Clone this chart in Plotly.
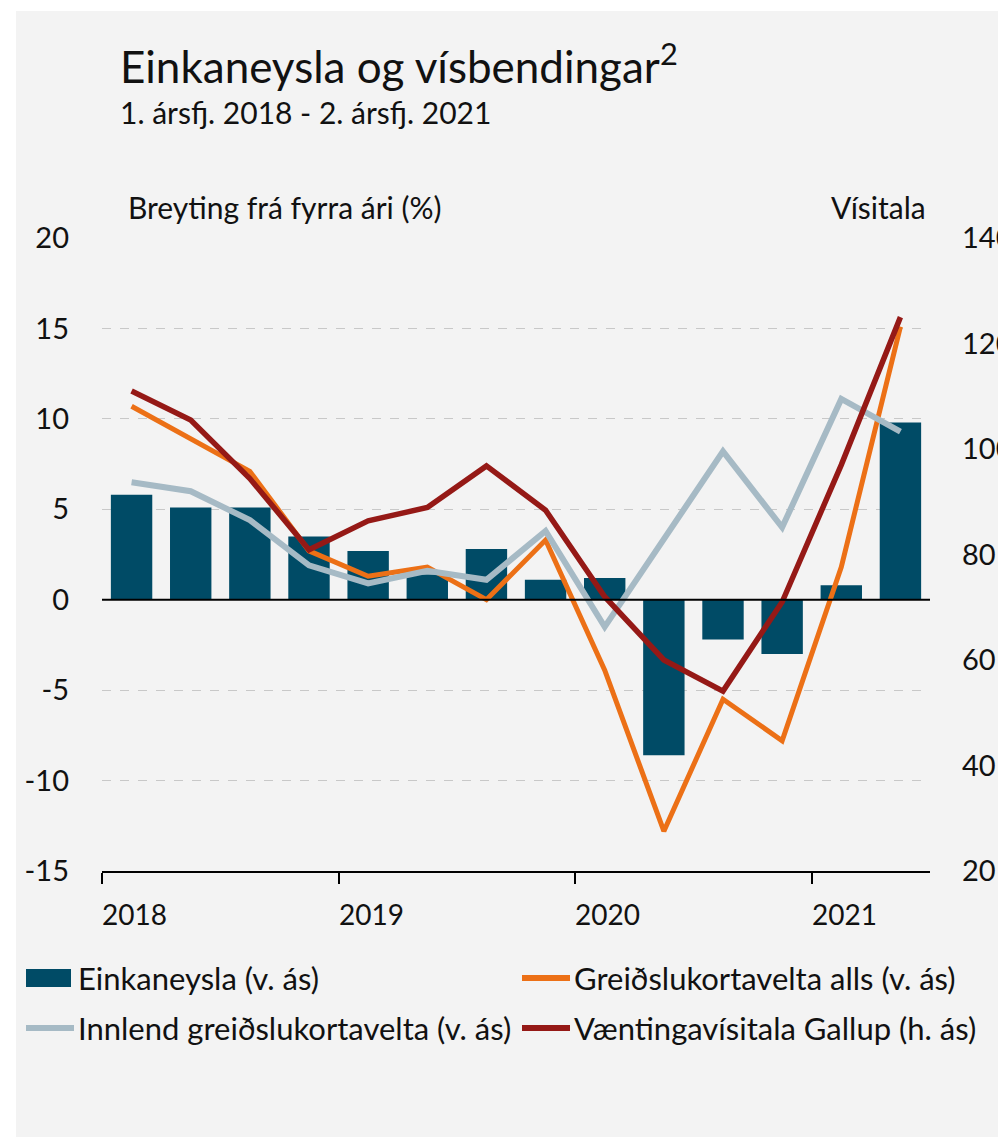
import plotly.graph_objects as go

# Quarterly data, 1. ársfj. 2018 - 2. ársfj. 2021
quarters = ["2018Q1", "2018Q2", "2018Q3", "2018Q4",
            "2019Q1", "2019Q2", "2019Q3", "2019Q4",
            "2020Q1", "2020Q2", "2020Q3", "2020Q4",
            "2021Q1", "2021Q2"]
einkaneysla = [5.8, 5.1, 5.1, 3.5, 2.7, 1.4, 2.8, 1.1, 1.2, -8.6, -2.2, -3.0, 0.8, 9.8]
greidslukort_alls = [10.7, 8.9, 7.1, 2.7, 1.3, 1.8, 0.0, 3.3, -3.9, -12.8, -5.5, -7.8, 1.8, 15.1]
innlend_greidslukort = [6.5, 6.0, 4.4, 1.9, 0.9, 1.6, 1.1, 3.8, -1.5, 3.4, 8.2, 4.0, 11.1, 9.3]
vaentingavisitala = [111.0, 105.5, 94.4, 80.9, 86.4, 88.9, 96.8, 88.4, 72.0, 60.0, 54.1, 71.0, 97.0, 125.0]

left_ticks = [-15, -10, -5, 0, 5, 10, 15, 20]
right_ticks = [20, 40, 60, 80, 100, 120, 140]

names = ["Einkaneysla (v. ás)", "Greiðslukortavelta alls (v. ás)",
         "Innlend greiðslukortavelta (v. ás)", "Væntingavísitala Gallup (h. ás)"]

C_BAR = "#004B66"
C_ORANGE = "#EC7016"
C_GREY = "#A6BAC5"
C_RED = "#951916"
BG = "#F3F3F3"
FONT = "Lato"

W_FIG, H_FIG = 998, 1137
L, R, T, B = 102, 930, 238, 871


def px(x):
    return (x - L) / (R - L)


def py(y):
    return (B - y) / (B - T)


xs = list(range(len(quarters)))
year_pos = [i - 0.5 for i, q in enumerate(quarters) if q.endswith("Q1")]
year_lbl = [q[:4] for q in quarters if q.endswith("Q1")]

fig = go.Figure()
fig.add_trace(go.Bar(x=xs, y=einkaneysla, marker=dict(color=C_BAR, line=dict(width=0)),
                     name=names[0], hovertext=quarters, showlegend=False))
fig.add_trace(go.Scatter(x=xs, y=greidslukort_alls, mode="lines",
                         line=dict(color=C_ORANGE, width=5), name=names[1],
                         hovertext=quarters, showlegend=False))
fig.add_trace(go.Scatter(x=xs, y=innlend_greidslukort, mode="lines",
                         line=dict(color=C_GREY, width=6), name=names[2],
                         hovertext=quarters, showlegend=False))
fig.add_trace(go.Scatter(x=xs, y=vaentingavisitala, mode="lines", yaxis="y2",
                         line=dict(color=C_RED, width=5.5), name=names[3],
                         hovertext=quarters, showlegend=False))

fig.update_layout(
    width=W_FIG, height=H_FIG, autosize=False,
    margin=dict(l=L, r=W_FIG - R, t=T, b=H_FIG - B),
    paper_bgcolor="white", plot_bgcolor=BG,
    font=dict(family=FONT, color="#111111"),
    bargap=0.3,
    showlegend=False,
    xaxis=dict(range=[-0.5, len(quarters) - 0.5], tickmode="array", tickvals=year_pos,
               showticklabels=False, ticks="outside", ticklen=11, tickwidth=2,
               tickcolor="black", showline=True, linecolor="black", linewidth=2,
               showgrid=False, zeroline=False, automargin=False),
    yaxis=dict(range=[-15, 20], tickmode="array", tickvals=left_ticks,
               ticktext=[str(v) for v in left_ticks], tickfont=dict(size=29),
               ticklabelstandoff=32, showgrid=True, gridcolor="#C8C8C8",
               griddash="dash", gridwidth=1, zeroline=False, showline=False,
               automargin=False),
    yaxis2=dict(range=[20, 140], overlaying="y", side="right", tickmode="array",
                tickvals=right_ticks, tickfont=dict(size=29), ticklabelstandoff=31,
                showgrid=False, zeroline=False, showline=False, automargin=False),
)

# zero line
fig.add_hline(y=0, line=dict(color="black", width=2), layer="above")

# grey panel with white frame at top/left
fig.add_shape(type="rect", xref="paper", yref="paper", x0=px(16), x1=px(1010),
              y0=py(1150), y1=py(11), fillcolor=BG, line=dict(width=0), layer="below")

# year labels
for xv, lbl in zip(year_pos, year_lbl):
    fig.add_annotation(x=xv, y=py(914), xref="x", yref="paper", text=lbl,
                       showarrow=False, xanchor="left", yanchor="middle",
                       xshift=-2, font=dict(size=28))

# titles
fig.add_annotation(x=px(118), y=py(63), xref="paper", yref="paper",
                   text="Einkaneysla og vísbendingar<sup>2</sup>", showarrow=False,
                   xanchor="left", yanchor="middle", font=dict(size=44))
fig.add_annotation(x=px(118), y=py(112), xref="paper", yref="paper",
                   text="1. ársfj. 2018 - 2. ársfj. 2021", showarrow=False,
                   xanchor="left", yanchor="middle", font=dict(size=30))
fig.add_annotation(x=px(126), y=py(207), xref="paper", yref="paper",
                   text="Breyting frá fyrra ári (%)", showarrow=False,
                   xanchor="left", yanchor="middle", font=dict(size=30))
fig.add_annotation(x=px(928), y=py(207), xref="paper", yref="paper",
                   text="Vísitala", showarrow=False,
                   xanchor="right", yanchor="middle", font=dict(size=30))

# legend (drawn by hand to mimic the original swatches)
legend_items = [
    (names[0], C_BAR, "bar", 26, 978),
    (names[1], C_ORANGE, "line", 522, 978),
    (names[2], C_GREY, "line", 26, 1028),
    (names[3], C_RED, "line", 522, 1028),
]
for text, col, kind, x0, yc in legend_items:
    if kind == "bar":
        fig.add_shape(type="rect", xref="paper", yref="paper", x0=px(x0), x1=px(x0 + 45),
                      y0=py(yc + 9), y1=py(yc - 9), fillcolor=col, line=dict(width=0))
    else:
        fig.add_shape(type="line", xref="paper", yref="paper", x0=px(x0), x1=px(x0 + 48),
                      y0=py(yc), y1=py(yc), line=dict(color=col, width=6))
    fig.add_annotation(x=px(x0 + 50), y=py(yc), xref="paper", yref="paper", text=text,
                       showarrow=False, xanchor="left", yanchor="middle",
                       font=dict(size=31))

# drop the default page margin so the figure sits at the window's origin
fix_page = (
    "document.body.style.margin='0';"
    "document.body.style.overflow='hidden';"
)
fig.write_html("out.html", post_script=fix_page,
               config=dict(responsive=False, displayModeBar=False))
